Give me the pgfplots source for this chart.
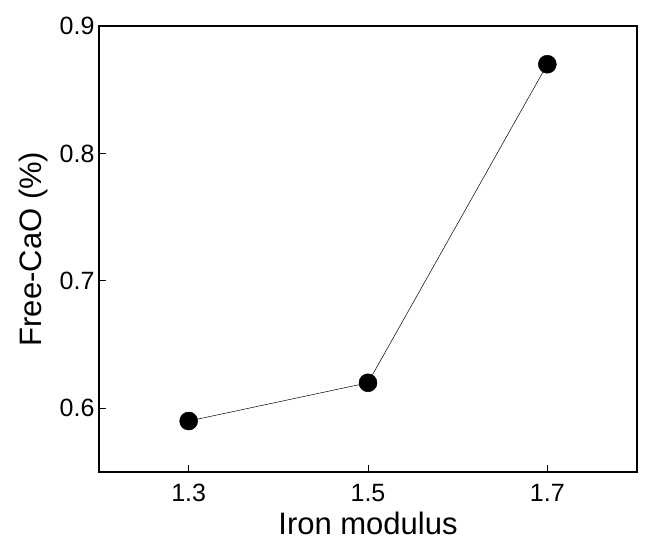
\documentclass[border=0pt]{standalone}
\usepackage{pgfplots}
\pgfplotsset{compat=1.18}
\usepackage{fontspec}
\setmainfont{Liberation Sans}
\begin{document}
\begin{tikzpicture}
\path[use as bounding box] (-99pt,-74pt) rectangle (552pt,472pt);
\begin{axis}[
  at={(0,0)}, anchor=south west,
  scale only axis, width=538pt, height=446pt,
  xmin=1.2, xmax=1.8, ymin=0.55, ymax=0.9,
  xtick={1.3,1.5,1.7}, ytick={0.6,0.7,0.8,0.9},
  xticklabels={1.3,1.5,1.7}, yticklabels={0.6,0.7,0.8,0.9},
  /pgf/number format/assume math mode=true,
  tick align=inside, tick pos=left,
  major tick length=7pt,
  axis line style={line width=1.3pt},
  tick style={line width=0.9pt, black},
  ticklabel style={font=\fontsize{25}{28}\selectfont},
  xticklabel style={yshift=-9pt},
  yticklabel style={xshift=-1pt},
  xlabel={Iron modulus}, ylabel={Free-CaO (\%)},
  label style={font=\fontsize{31}{34}\selectfont},
  xlabel style={at={(axis description cs:0.5,-0.141)}, anchor=base},
  ylabel style={at={(axis description cs:-0.106,0.5)}, anchor=base, rotate=0},
]
\addplot[black, line width=0.5pt, mark=*, mark size=9pt, mark options={fill=black}]
  coordinates {(1.3,0.59) (1.5,0.62) (1.7,0.87)};
\end{axis}
\end{tikzpicture}
\end{document}
